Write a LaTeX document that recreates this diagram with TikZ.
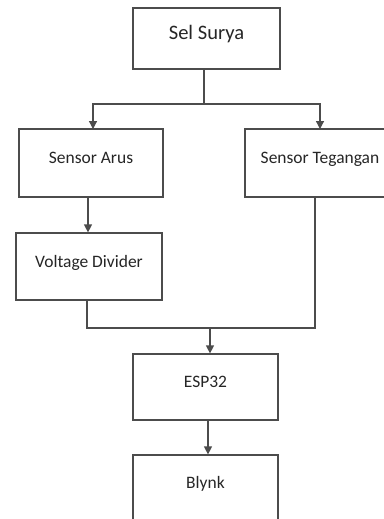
\documentclass[tikz,border=0pt]{standalone}
\usepackage{fontspec}
\setmainfont{Carlito}
\usetikzlibrary{arrows.meta}

\tikzset{every picture/.style={line width=0.75pt}}
\tikzset{
  blok/.style={draw={black!70}, line width=0.9pt, rectangle, minimum width=145*0.75pt, minimum height=66*0.75pt,
    inner sep=0pt, text height=8pt, text depth=7pt, text={black!85}, font=\fontsize{13.1}{15}\selectfont},
  alir/.style={draw={black!70}, line width=0.9pt},
  panah/.style={alir, -{Triangle[length=6pt,width=6pt]}}
}

\begin{document}
\begin{tikzpicture}[x=0.75pt,y=0.75pt,yscale=-1,xscale=1]
%set diagram left start at 0, and has height of 519
\clip (0,0) rectangle (384,519);
\fill[white] (0,0) rectangle (384,519);

%Shape: Rectangle [id:sel_surya]
\node [blok, minimum width=147*0.75pt, minimum height=61*0.75pt, font=\fontsize{15.4}{17}\selectfont] (surya) at (206.5,38.5) {Sel Surya};
%Shape: Rectangle [id:sensor_arus]
\node [blok, minimum width=144*0.75pt, minimum height=68*0.75pt] (arus) at (91,163) {Sensor Arus};
%Shape: Rectangle [id:sensor_tegangan]
\node [blok, minimum width=150*0.75pt, minimum height=68*0.75pt] (tegangan) at (320,163) {Sensor Tegangan};
%Shape: Rectangle [id:voltage_divider]
\node [blok, minimum width=146*0.75pt, minimum height=67*0.75pt] (pembagi) at (89,266.5) {Voltage Divider};
%Shape: Rectangle [id:esp32]
\node [blok] (esp) at (205.5,387) {ESP32};
%Shape: Rectangle [id:blynk]
\node [blok] (blynk) at (205.5,488) {Blynk};

%Straight Lines [id:cabang]
\coordinate (cabang) at (204,104);
\draw [alir] (surya.south -| cabang) -- (cabang) ;
\draw [panah] (cabang) -| (93,129) ;
\draw [panah] (cabang) -| (320,129) ;

%Straight Lines [id:arus_ke_pembagi]
\draw [panah] (arus.south -| 88,0) -- (pembagi.north -| 88,0) ;

%Straight Lines [id:gabung]
\coordinate (gabung) at (210,328);
\draw [alir] (pembagi.south -| 87,0) |- (gabung) -| (tegangan.south -| 315,0) ;
\draw [panah] (gabung) -- (esp.north -| gabung) ;

%Straight Lines [id:esp_ke_blynk]
\draw [panah] (esp.south -| 208,0) -- (blynk.north -| 208,0) ;

\end{tikzpicture}
\end{document}
